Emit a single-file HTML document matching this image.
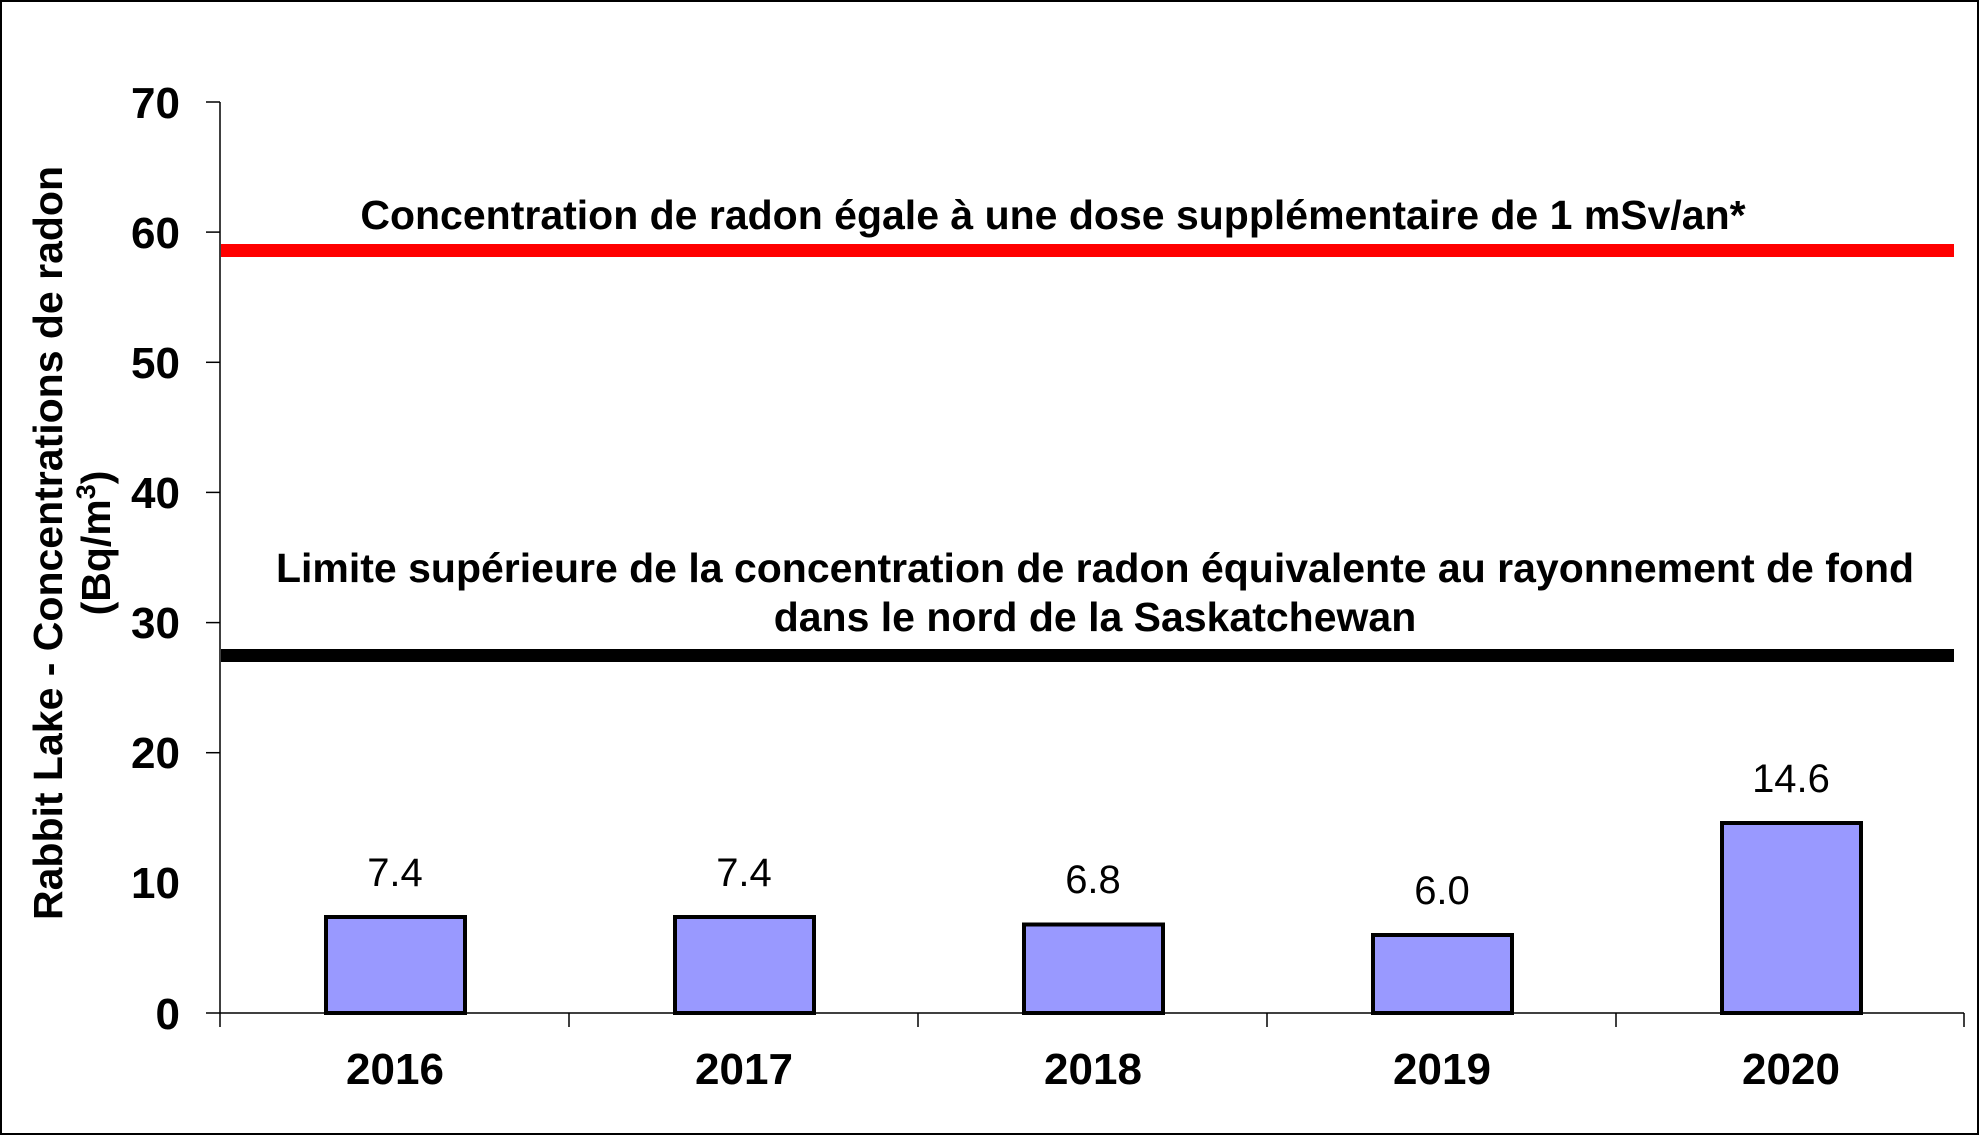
<!DOCTYPE html>
<html><head><meta charset="utf-8"><style>html,body{margin:0;padding:0;background:#fff}svg{display:block}</style></head>
<body>
<svg width="1980" height="1135" viewBox="0 0 1980 1135" xmlns="http://www.w3.org/2000/svg" font-family="Liberation Sans, Arial, sans-serif">
<rect x="1" y="1" width="1977" height="1133" fill="#fff" stroke="#000" stroke-width="2"/>
<!-- axes -->
<line x1="220" y1="102" x2="220" y2="1027" stroke="#000" stroke-width="1.5"/>
<line x1="206" y1="1013" x2="1964" y2="1013" stroke="#000" stroke-width="1.5"/>
<g stroke="#000" stroke-width="1.5">
<line x1="206" y1="102" x2="220" y2="102"/><line x1="206" y1="232.1" x2="220" y2="232.1"/>
<line x1="206" y1="362.3" x2="220" y2="362.3"/><line x1="206" y1="492.4" x2="220" y2="492.4"/>
<line x1="206" y1="622.6" x2="220" y2="622.6"/><line x1="206" y1="752.7" x2="220" y2="752.7"/>
<line x1="569" y1="1013" x2="569" y2="1027"/><line x1="918" y1="1013" x2="918" y2="1027"/>
<line x1="1267" y1="1013" x2="1267" y2="1027"/><line x1="1616" y1="1013" x2="1616" y2="1027"/>
<line x1="1964" y1="1013" x2="1964" y2="1027"/>
</g>
<g font-size="44" font-weight="bold" text-anchor="end">
<text x="180" y="118">70</text><text x="180" y="248">60</text><text x="180" y="378">50</text>
<text x="180" y="508">40</text><text x="180" y="638">30</text><text x="180" y="768">20</text>
<text x="180" y="898">10</text><text x="180" y="1029">0</text>
</g>
<g font-size="44" font-weight="bold" text-anchor="middle">
<text x="395" y="1084">2016</text><text x="744" y="1084">2017</text><text x="1093" y="1084">2018</text>
<text x="1442" y="1084">2019</text><text x="1791" y="1084">2020</text>
</g>
<!-- bars -->
<g fill="#9999ff" stroke="#000" stroke-width="4">
<rect x="326" y="917" width="139" height="96"/>
<rect x="675" y="917" width="139" height="96"/>
<rect x="1024" y="924.5" width="139" height="88.5"/>
<rect x="1373" y="935" width="139" height="78"/>
<rect x="1722" y="823" width="139" height="190"/>
</g>
<g font-size="40" text-anchor="middle">
<text x="395" y="886">7.4</text><text x="744" y="886">7.4</text><text x="1093" y="893">6.8</text>
<text x="1442" y="904">6.0</text><text x="1791" y="792">14.6</text>
</g>
<!-- lines -->
<rect x="221" y="244" width="1733" height="13" fill="#ff0000"/>
<rect x="221" y="649" width="1733" height="13" fill="#000"/>
<g font-size="41" font-weight="bold" text-anchor="middle">
<text x="1053" y="229">Concentration de radon égale à une dose supplémentaire de 1 mSv/an*</text>
<text x="1095" y="582">Limite supérieure de la concentration de radon équivalente au rayonnement de fond</text>
<text x="1095" y="631">dans le nord de la Saskatchewan</text>
</g>
<g font-size="41" font-weight="bold" text-anchor="middle">
<text transform="translate(62,543) rotate(-90)">Rabbit Lake - Concentrations de radon</text>
<text transform="translate(110,543) rotate(-90)">(Bq/m<tspan font-size="27" dy="-15">3</tspan><tspan dy="15">)</tspan></text>
</g>
</svg>
</body></html>
